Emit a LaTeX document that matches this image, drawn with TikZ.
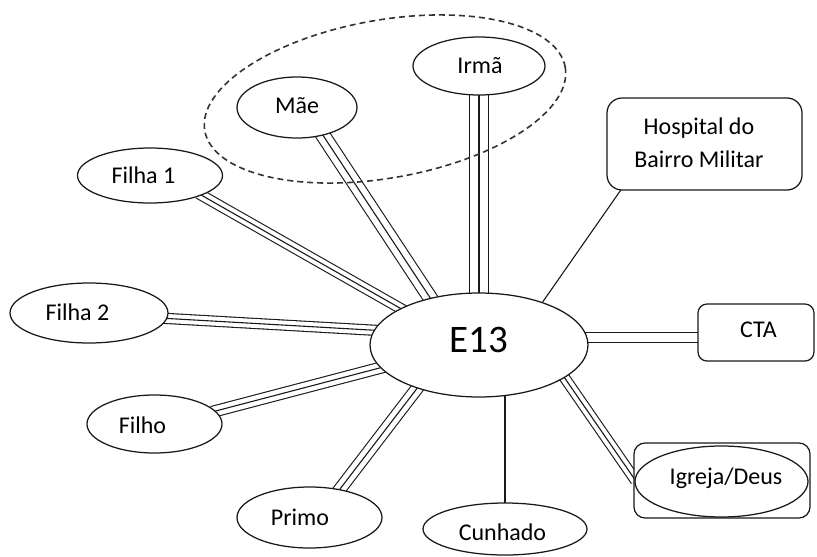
\documentclass[tikz,border=0pt]{standalone}
\usepackage{fontspec}
\setmainfont{Carlito}
\usetikzlibrary{shapes.geometric,backgrounds}

\tikzset{
  ent/.style={ellipse, draw=black!90, line width=1.25pt, fill=white, inner sep=0pt},
  roundbox/.style={rectangle, rounded corners=#1, draw=black!90, line width=1.25pt, fill=white, inner sep=0pt},
  lab/.style={font=\fontsize{24}{33}\selectfont, inner sep=0pt},
  txt/.style={lab, text height=15.2pt, text depth=0pt},
  bigtxt/.style={font=\fontsize{39}{44}\selectfont, inner sep=0pt, text height=24.6pt, text depth=0pt},
  link/.style={line width=1.1pt, draw=black!90, shorten <=-4pt, shorten >=-4pt},
  group/.style={draw=black!80, line width=1.6pt, dash pattern=on 6pt off 4pt},
}

% three parallel strands: #1 = inner double distance, #2 = start, #3 = end
\newcommand{\tripleline}[3]{%
  \draw[link, double=white, double distance=#1] (#2) -- (#3);
  \draw[link] (#2) -- (#3);
}

\begin{document}
\begin{tikzpicture}[x=1pt, y=-1pt]
\useasboundingbox (0,0) rectangle (817,557);

% central person
\node[ent, minimum width=218pt, minimum height=104pt,
      label={[bigtxt, yshift=4.5pt]center:E13}] (e13) at (479,345) {};

% family members
\node[ent, minimum width=132pt, minimum height=58pt,
      label={[txt, xshift=1pt]center:Irmã}] (irma) at (479,66) {};
\node[ent, minimum width=120pt, minimum height=61pt,
      label={[txt, yshift=2pt]center:Mãe}] (mae) at (297,107.5) {};
\node[ent, minimum width=145pt, minimum height=55pt,
      label={[txt, xshift=-6.5pt]center:Filha 1}] (filha1) at (150,175.5) {};
\node[ent, minimum width=158pt, minimum height=60pt,
      label={[txt, xshift=-11.5pt]center:Filha 2}] (filha2) at (89,313) {};
\node[ent, minimum width=135pt, minimum height=58pt,
      label={[txt, xshift=-12pt, yshift=-1.5pt]center:Filho}] (filho) at (154.5,424) {};
\node[ent, minimum width=145pt, minimum height=61pt,
      label={[txt, xshift=-9.5pt]center:Primo}] (primo) at (309.5,517.5) {};
\node[ent, minimum width=164pt, minimum height=52pt,
      label={[txt, xshift=-2.5pt, yshift=-3.5pt]center:Cunhado}] (cunhado) at (505,529) {};

% institutions
\node[roundbox=9pt, minimum width=116pt, minimum height=57pt,
      label={[txt, xshift=2.5pt, yshift=3pt]center:CTA}] (cta) at (756,332.5) {};
\node[roundbox=15pt, minimum width=195pt, minimum height=92pt,
      label={[lab, align=center, xshift=-5.5pt, yshift=1pt]center:{Hospital do\\Bairro Militar}}] (hospital) at (704.5,144) {};
\node[roundbox=11pt, minimum width=176pt, minimum height=75pt] (igreja) at (722,480.5) {};
\node[ent, minimum width=173pt, minimum height=71pt,
      label={[txt, xshift=4.5pt, yshift=4.5pt]center:Igreja/Deus}] (igrejaell) at (721.5,481.5) {};

% ties, drawn beneath the nodes
\begin{pgfonlayer}{background}
  \tripleline{18pt}{irma.-90}{e13.90}
  \tripleline{13pt}{mae.-47}{e13.136}
  \tripleline{9pt}{filha1.-21}{e13.155}
  \tripleline{9pt}{filha2.-4}{e13.172}
  \tripleline{10pt}{filho.12}{e13.-167}
  \tripleline{11pt}{primo.43}{e13.-145}
  \tripleline{9pt}{e13.-21}{igreja.178}
  \draw[link, double=white, double distance=9pt] (e13.4) -- (e13.4 -| cta.west);
  \draw[link] (hospital.209) -- (e13.34);
  \draw[link] (cunhado.north) -- (cunhado.north |- e13.center);
\end{pgfonlayer}

% dashed grouping around mother and sister
\draw[group, rotate around={10:(385,99)}] (385,99) ellipse [x radius=183pt, y radius=79pt];
\end{tikzpicture}
\end{document}
